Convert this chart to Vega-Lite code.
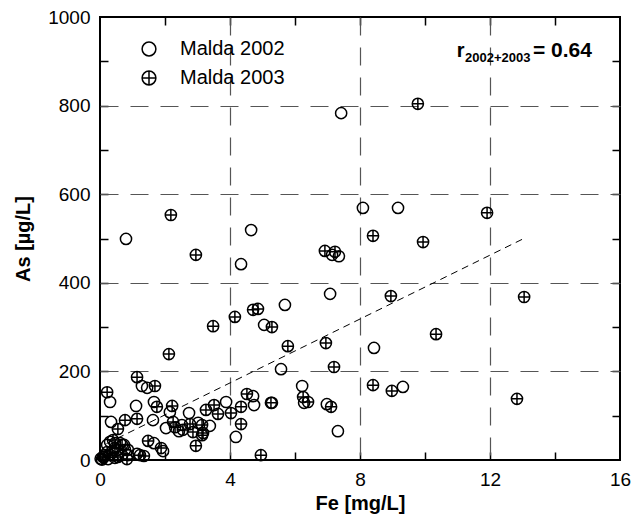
{
  "$schema": "https://vega.github.io/schema/vega-lite/v6.json",
  "width": 520,
  "height": 443,
  "autosize": {"type": "none"},
  "padding": {"left": 100, "top": 17, "right": 20, "bottom": 58},
  "background": "white",
  "config": {
    "font": "Liberation Sans",
    "view": {"stroke": "black", "strokeWidth": 2},
    "axis": {
      "domain": false,
      "ticks": false,
      "tickSize": 0,
      "labelFlush": false,
      "labelFont": "Liberation Sans",
      "labelFontSize": 19,
      "labelColor": "black",
      "titleFont": "Liberation Sans",
      "titleFontSize": 20,
      "titleFontWeight": "bold",
      "titleColor": "black",
      "gridColor": "#555555",
      "gridDash": [18, 12],
      "gridWidth": 1.2
    }
  },
  "datasets": {
    "pts": [
      {"Fe": 0.80, "As": 499, "series": "Malda 2002"},
      {"Fe": 4.65, "As": 519, "series": "Malda 2002"},
      {"Fe": 4.34, "As": 442, "series": "Malda 2002"},
      {"Fe": 7.42, "As": 783, "series": "Malda 2002"},
      {"Fe": 8.09, "As": 569, "series": "Malda 2002"},
      {"Fe": 9.17, "As": 569, "series": "Malda 2002"},
      {"Fe": 7.08, "As": 375, "series": "Malda 2002"},
      {"Fe": 8.43, "As": 253, "series": "Malda 2002"},
      {"Fe": 9.32, "As": 165, "series": "Malda 2002"},
      {"Fe": 7.32, "As": 65, "series": "Malda 2002"},
      {"Fe": 6.98, "As": 126, "series": "Malda 2002"},
      {"Fe": 7.14, "As": 463, "series": "Malda 2002"},
      {"Fe": 7.35, "As": 460, "series": "Malda 2002"},
      {"Fe": 5.69, "As": 350, "series": "Malda 2002"},
      {"Fe": 5.05, "As": 305, "series": "Malda 2002"},
      {"Fe": 5.57, "As": 205, "series": "Malda 2002"},
      {"Fe": 6.22, "As": 167, "series": "Malda 2002"},
      {"Fe": 6.28, "As": 129, "series": "Malda 2002"},
      {"Fe": 5.29, "As": 129, "series": "Malda 2002"},
      {"Fe": 4.71, "As": 144, "series": "Malda 2002"},
      {"Fe": 4.74, "As": 124, "series": "Malda 2002"},
      {"Fe": 4.18, "As": 52, "series": "Malda 2002"},
      {"Fe": 3.88, "As": 131, "series": "Malda 2002"},
      {"Fe": 2.74, "As": 106, "series": "Malda 2002"},
      {"Fe": 2.15, "As": 108, "series": "Malda 2002"},
      {"Fe": 1.29, "As": 167, "series": "Malda 2002"},
      {"Fe": 1.45, "As": 163, "series": "Malda 2002"},
      {"Fe": 1.66, "As": 131, "series": "Malda 2002"},
      {"Fe": 1.11, "As": 122, "series": "Malda 2002"},
      {"Fe": 1.63, "As": 90, "series": "Malda 2002"},
      {"Fe": 0.31, "As": 131, "series": "Malda 2002"},
      {"Fe": 0.34, "As": 86, "series": "Malda 2002"},
      {"Fe": 2.03, "As": 72, "series": "Malda 2002"},
      {"Fe": 1.66, "As": 38, "series": "Malda 2002"},
      {"Fe": 1.94, "As": 20, "series": "Malda 2002"},
      {"Fe": 1.14, "As": 14, "series": "Malda 2002"},
      {"Fe": 2.52, "As": 79, "series": "Malda 2002"},
      {"Fe": 2.43, "As": 65, "series": "Malda 2002"},
      {"Fe": 3.02, "As": 84, "series": "Malda 2002"},
      {"Fe": 3.38, "As": 77, "series": "Malda 2002"},
      {"Fe": 0.02, "As": 3, "series": "Malda 2002"},
      {"Fe": 0.09, "As": 7, "series": "Malda 2002"},
      {"Fe": 0.31, "As": 41, "series": "Malda 2002"},
      {"Fe": 0.46, "As": 38, "series": "Malda 2002"},
      {"Fe": 0.62, "As": 38, "series": "Malda 2002"},
      {"Fe": 0.74, "As": 34, "series": "Malda 2002"},
      {"Fe": 0.86, "As": 23, "series": "Malda 2002"},
      {"Fe": 0.22, "As": 34, "series": "Malda 2002"},
      {"Fe": 0.37, "As": 18, "series": "Malda 2002"},
      {"Fe": 0.55, "As": 23, "series": "Malda 2002"},
      {"Fe": 0.15, "As": 11, "series": "Malda 2002"},
      {"Fe": 0.68, "As": 11, "series": "Malda 2002"},
      {"Fe": 0.25, "As": 2, "series": "Malda 2002"},
      {"Fe": 0.46, "As": 5, "series": "Malda 2002"},
      {"Fe": 0.86, "As": 11, "series": "Malda 2002"},
      {"Fe": 2.18, "As": 553, "series": "Malda 2003"},
      {"Fe": 2.95, "As": 463, "series": "Malda 2003"},
      {"Fe": 9.78, "As": 804, "series": "Malda 2003"},
      {"Fe": 11.91, "As": 558, "series": "Malda 2003"},
      {"Fe": 8.40, "As": 506, "series": "Malda 2003"},
      {"Fe": 9.94, "As": 492, "series": "Malda 2003"},
      {"Fe": 8.95, "As": 370, "series": "Malda 2003"},
      {"Fe": 13.05, "As": 368, "series": "Malda 2003"},
      {"Fe": 10.34, "As": 284, "series": "Malda 2003"},
      {"Fe": 8.40, "As": 169, "series": "Malda 2003"},
      {"Fe": 8.98, "As": 156, "series": "Malda 2003"},
      {"Fe": 12.83, "As": 138, "series": "Malda 2003"},
      {"Fe": 6.92, "As": 472, "series": "Malda 2003"},
      {"Fe": 7.23, "As": 470, "series": "Malda 2003"},
      {"Fe": 4.71, "As": 339, "series": "Malda 2003"},
      {"Fe": 4.86, "As": 341, "series": "Malda 2003"},
      {"Fe": 5.29, "As": 300, "series": "Malda 2003"},
      {"Fe": 5.78, "As": 257, "series": "Malda 2003"},
      {"Fe": 6.95, "As": 264, "series": "Malda 2003"},
      {"Fe": 4.15, "As": 323, "series": "Malda 2003"},
      {"Fe": 3.48, "As": 302, "series": "Malda 2003"},
      {"Fe": 7.20, "As": 210, "series": "Malda 2003"},
      {"Fe": 7.11, "As": 120, "series": "Malda 2003"},
      {"Fe": 6.25, "As": 142, "series": "Malda 2003"},
      {"Fe": 6.40, "As": 131, "series": "Malda 2003"},
      {"Fe": 5.26, "As": 129, "series": "Malda 2003"},
      {"Fe": 4.52, "As": 149, "series": "Malda 2003"},
      {"Fe": 4.34, "As": 81, "series": "Malda 2003"},
      {"Fe": 4.95, "As": 11, "series": "Malda 2003"},
      {"Fe": 4.34, "As": 120, "series": "Malda 2003"},
      {"Fe": 4.03, "As": 106, "series": "Malda 2003"},
      {"Fe": 3.63, "As": 104, "series": "Malda 2003"},
      {"Fe": 3.51, "As": 124, "series": "Malda 2003"},
      {"Fe": 3.26, "As": 113, "series": "Malda 2003"},
      {"Fe": 2.95, "As": 32, "series": "Malda 2003"},
      {"Fe": 2.22, "As": 122, "series": "Malda 2003"},
      {"Fe": 2.12, "As": 239, "series": "Malda 2003"},
      {"Fe": 1.14, "As": 187, "series": "Malda 2003"},
      {"Fe": 1.69, "As": 167, "series": "Malda 2003"},
      {"Fe": 1.75, "As": 120, "series": "Malda 2003"},
      {"Fe": 1.14, "As": 93, "series": "Malda 2003"},
      {"Fe": 0.77, "As": 90, "series": "Malda 2003"},
      {"Fe": 0.22, "As": 153, "series": "Malda 2003"},
      {"Fe": 0.55, "As": 70, "series": "Malda 2003"},
      {"Fe": 1.48, "As": 43, "series": "Malda 2003"},
      {"Fe": 1.88, "As": 27, "series": "Malda 2003"},
      {"Fe": 1.23, "As": 11, "series": "Malda 2003"},
      {"Fe": 1.35, "As": 9, "series": "Malda 2003"},
      {"Fe": 2.25, "As": 86, "series": "Malda 2003"},
      {"Fe": 2.31, "As": 74, "series": "Malda 2003"},
      {"Fe": 2.55, "As": 68, "series": "Malda 2003"},
      {"Fe": 2.77, "As": 81, "series": "Malda 2003"},
      {"Fe": 2.86, "As": 63, "series": "Malda 2003"},
      {"Fe": 3.14, "As": 79, "series": "Malda 2003"},
      {"Fe": 3.17, "As": 61, "series": "Malda 2003"},
      {"Fe": 3.14, "As": 56, "series": "Malda 2003"},
      {"Fe": 0.12, "As": 7, "series": "Malda 2003"},
      {"Fe": 0.22, "As": 18, "series": "Malda 2003"},
      {"Fe": 0.46, "As": 27, "series": "Malda 2003"},
      {"Fe": 0.55, "As": 7, "series": "Malda 2003"},
      {"Fe": 0.83, "As": 2, "series": "Malda 2003"},
      {"Fe": 0.68, "As": 34, "series": "Malda 2003"},
      {"Fe": 0.31, "As": 11, "series": "Malda 2003"},
      {"Fe": 0.40, "As": 45, "series": "Malda 2003"},
      {"Fe": 0.06, "As": 1, "series": "Malda 2003"},
      {"Fe": 0.77, "As": 23, "series": "Malda 2003"}
    ],
    "fit": [
      {"Fe": 0.2, "As": 37},
      {"Fe": 13.07, "As": 501}
    ]
  },
  "layer": [
    {
      "data": {"name": "fit"},
      "mark": {"type": "line", "color": "black", "strokeWidth": 1, "strokeDash": [7, 5]},
      "encoding": {
        "x": {
          "field": "Fe", "type": "quantitative",
          "scale": {"domain": [0, 16], "nice": false},
          "axis": {"orient": "top", "values": [2, 4, 6, 8, 10, 12, 14], "labels": false, "title": null,
                   "grid": true, "gridDash": [8, 427, 8, 200], "gridColor": "black", "gridWidth": 1.5}
        },
        "y": {
          "field": "As", "type": "quantitative",
          "scale": {"domain": [0, 1000], "nice": false},
          "axis": {"orient": "right", "values": [100, 200, 300, 400, 500, 600, 700, 800, 900], "labels": false, "title": null,
                   "grid": true, "gridDash": [8, 504, 8, 200], "gridColor": "black", "gridWidth": 1.5}
        }
      }
    },
    {
      "data": {"name": "pts"},
      "mark": {"type": "point", "filled": false, "strokeWidth": 1.5, "size": 125, "opacity": 1},
      "encoding": {
        "x": {
          "field": "Fe", "type": "quantitative",
          "scale": {"domain": [0, 16], "nice": false},
          "axis": {
            "orient": "bottom",
            "values": [0, 4, 8, 12, 16],
            "labelPadding": 10,
            "title": "Fe [mg/L]",
            "titlePadding": 4,
            "grid": true,
            "gridOpacity": {"condition": {"test": "datum.value > 0 && datum.value < 16", "value": 1}, "value": 0}
          }
        },
        "y": {
          "field": "As", "type": "quantitative",
          "scale": {"domain": [0, 1000], "nice": false},
          "axis": {
            "orient": "left",
            "values": [0, 200, 400, 600, 800, 1000],
            "format": "d",
            "labelPadding": 10,
            "title": "As [µg/L]",
            "titlePadding": 14,
            "grid": true,
            "gridOpacity": {"condition": {"test": "datum.value > 0 && datum.value < 1000", "value": 1}, "value": 0}
          }
        },
        "shape": {
          "field": "series", "type": "nominal",
          "scale": {"domain": ["Malda 2002", "Malda 2003"], "range": ["circle", "M-1,0A1,1,0,1,0,1,0A1,1,0,1,0,-1,0ZM-1,0L1,0M0,-1L0,1"]},
          "legend": {
            "orient": "none",
            "legendX": 39,
            "legendY": 22,
            "title": null,
            "padding": 0,
            "symbolSize": 190,
            "symbolStrokeWidth": 1.5,
            "symbolStrokeColor": "black",
            "symbolFillColor": "transparent",
            "labelFontSize": 20,
            "labelFont": "Liberation Sans",
            "labelColor": "black",
            "labelOffset": 21,
            "rowPadding": 9
          }
        },
        "color": {"value": "black"}
      }
    },
    {
      "data": {"values": [{"Fe": 10.98, "As": 910, "t": "r"}]},
      "mark": {"type": "text", "align": "left", "baseline": "alphabetic", "fontSize": 20, "fontWeight": "bold", "font": "Liberation Sans", "color": "black"},
      "encoding": {"x": {"field": "Fe", "type": "quantitative", "axis": null}, "y": {"field": "As", "type": "quantitative", "axis": null}, "text": {"field": "t"}}
    },
    {
      "data": {"values": [{"Fe": 11.23, "As": 898, "t": "2002+2003"}]},
      "mark": {"type": "text", "align": "left", "baseline": "alphabetic", "fontSize": 13, "fontWeight": "bold", "font": "Liberation Sans", "color": "black"},
      "encoding": {"x": {"field": "Fe", "type": "quantitative", "axis": null}, "y": {"field": "As", "type": "quantitative", "axis": null}, "text": {"field": "t"}}
    },
    {
      "data": {"values": [{"Fe": 13.32, "As": 910, "t": "= 0.64"}]},
      "mark": {"type": "text", "align": "left", "baseline": "alphabetic", "fontSize": 21, "fontWeight": "bold", "font": "Liberation Sans", "color": "black"},
      "encoding": {"x": {"field": "Fe", "type": "quantitative", "axis": null}, "y": {"field": "As", "type": "quantitative", "axis": null}, "text": {"field": "t"}}
    }
  ]
}
